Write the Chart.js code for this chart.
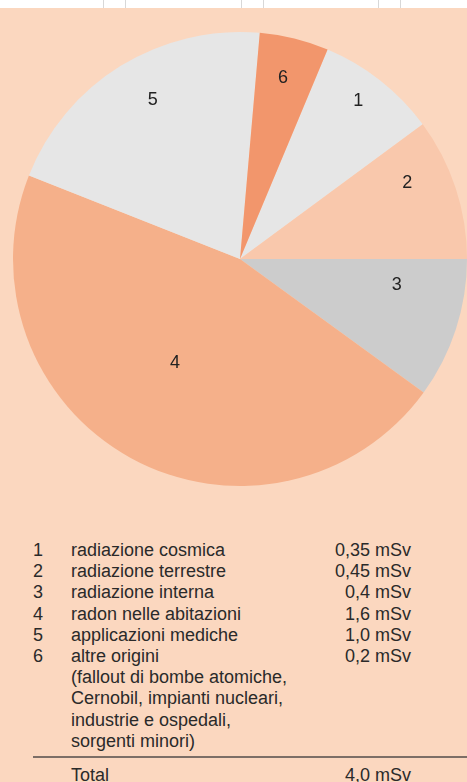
<!DOCTYPE html>
<html>
<head>
<meta charset="utf-8">
<script src="https://cdn.jsdelivr.net/npm/chart.js@4.4.0/dist/chart.umd.min.js"></script>
<style>
  html, body { margin: 0; padding: 0; }
  body {
    width: 467px; height: 782px; overflow: hidden; position: relative;
    background: #fbd7bf;
    font-family: "Liberation Sans", Arial, sans-serif;
    color: #2a2a2a;
  }
  #topstrip { position: absolute; left: 0; top: 0; width: 467px; height: 8px; background: #fff; }
  #topstrip div { position: absolute; top: 0; width: 1px; height: 8px; background: #d8d8d8; }
  #pieBox { position: absolute; left: 0; top: 0; }
  #legend { position: absolute; left: 0; top: 540px; width: 467px; font-size: 18px; }
  .row { position: absolute; left: 0; width: 467px; height: 21px; line-height: 21px; }
  .num { position: absolute; left: 33px; }
  .txt { position: absolute; left: 71px; white-space: nowrap; }
  .val { position: absolute; right: 56px; white-space: nowrap; }
  #rule { position: absolute; left: 33px; top: 756px; width: 434px; height: 2px; background: #7c6e66; }
</style>
</head>
<body>
<div id="topstrip"></div>
<div id="pieBox"><canvas id="pie" width="467" height="500"></canvas></div>
<div id="legend"></div>
<div id="rule"></div>
<script>
// slice numbers as printed in the pie
const sliceIds = ['1', '2', '3', '4', '5', '6'];
// share of each slice as drawn in the picture (degrees of the circle)
const sliceShares = [30.9, 36.4, 36.0, 165.6, 73.4, 17.7];
const categories = [
  'radiazione cosmica',
  'radiazione terrestre',
  'radiazione interna',
  'radon nelle abitazioni',
  'applicazioni mediche',
  'altre origini'
];
const doses = ['0,35 mSv', '0,45 mSv', '0,4 mSv', '1,6 mSv', '1,0 mSv', '0,2 mSv'];
const noteLines = [
  '(fallout di bombe atomiche,',
  'Cernobil, impianti nucleari,',
  'industrie e ospedali,',
  'sorgenti minori)'
];
const totalLabel = 'Total';
const totalDose = '4,0 mSv';

const sliceColors = ['#e6e6e6', '#f9c8ac', '#cccccc', '#f5b08a', '#e6e6e6', '#f2966c'];

// top table remnant lines
var strip = document.getElementById('topstrip');
[103, 125, 241, 263, 378, 400].forEach(function (x) {
  var d = document.createElement('div');
  d.style.left = x + 'px';
  strip.appendChild(d);
});

// legend table
var legend = document.getElementById('legend');
function addRow(top, num, txt, val) {
  var r = document.createElement('div');
  r.className = 'row';
  r.style.top = top + 'px';
  r.innerHTML = '<span class="num">' + num + '</span><span class="txt">' + txt + '</span><span class="val">' + val + '</span>';
  legend.appendChild(r);
}
var y = 0;
for (var i = 0; i < categories.length; i++) {
  addRow(y, sliceIds[i], categories[i], doses[i]);
  y += 21.2;
}
for (var j = 0; j < noteLines.length; j++) {
  addRow(y, '', noteLines[j], '');
  y += 21.2;
}
addRow(225, '', totalLabel, totalDose);

// numbers inside the slices, placed like in the print
const sliceLabels = {
  id: 'sliceLabels',
  afterDatasetsDraw(chart, args, opts) {
    const ctx = chart.ctx;
    const meta = chart.getDatasetMeta(0);
    ctx.save();
    ctx.font = '18px "Liberation Sans", Arial, sans-serif';
    ctx.fillStyle = '#222';
    ctx.textAlign = 'center';
    ctx.textBaseline = 'middle';
    meta.data.forEach(function (arc, k) {
      const p = opts.place[k];
      const a = (arc.startAngle + arc.endAngle) / 2 + p[1] * Math.PI / 180;
      const r = arc.outerRadius * p[0];
      ctx.fillText(chart.data.labels[k], arc.x + Math.cos(a) * r, arc.y + Math.sin(a) * r);
    });
    ctx.restore();
  }
};

new Chart(document.getElementById('pie').getContext('2d'), {
  type: 'pie',
  data: {
    labels: sliceIds,
    datasets: [{
      data: sliceShares,
      backgroundColor: sliceColors,
      borderWidth: 0
    }]
  },
  options: {
    responsive: false,
    animation: false,
    rotation: 22.7,
    layout: { padding: { left: 13, right: 0, top: 32, bottom: 14 } },
    plugins: {
      legend: { display: false },
      tooltip: { enabled: false },
      sliceLabels: {
        place: [[0.87, -1.4], [0.81, -6.3], [0.70, -8.5], [0.54, 3.2], [0.80, 3.0], [0.82, -0.5]]
      }
    }
  },
  plugins: [sliceLabels]
});
</script>
</body>
</html>
